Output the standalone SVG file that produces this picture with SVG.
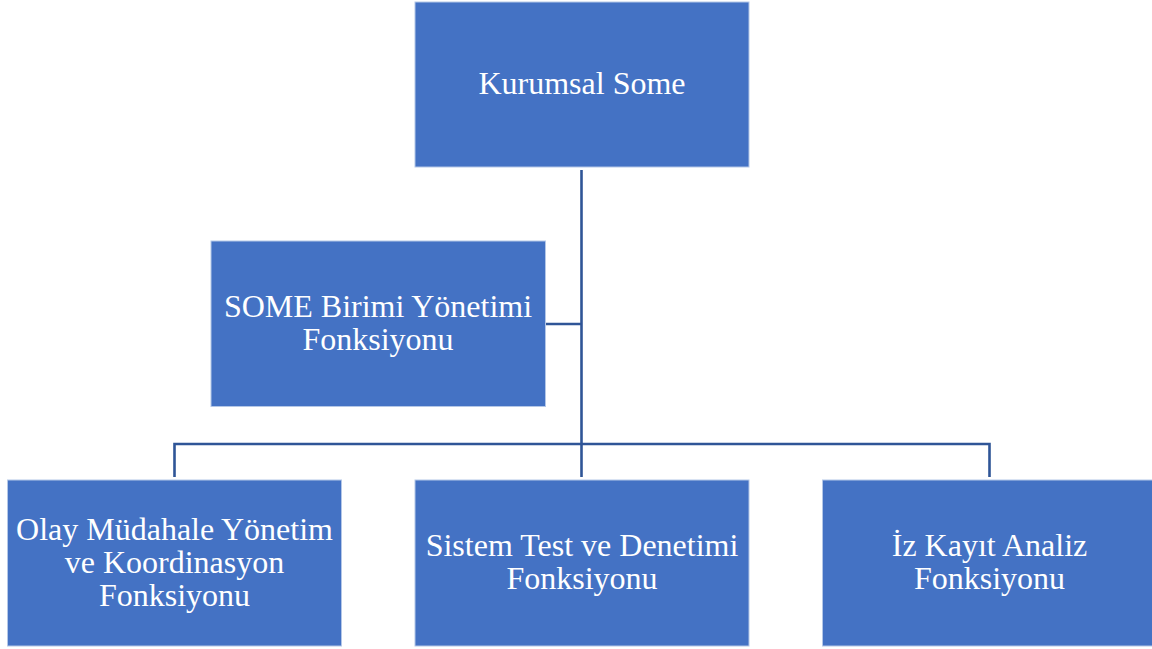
<svg xmlns="http://www.w3.org/2000/svg" width="1152" height="649" viewBox="0 0 1152 649">
<style>
.box{fill:#4472C4;stroke:#B4C7E7;stroke-width:1}
.t{font-family:"Liberation Serif","Times New Roman",serif;font-size:32px;fill:#FFFFFF;text-anchor:middle}
.c{fill:none;stroke:#2F5597;stroke-width:2.6}
</style>
<rect width="1152" height="649" fill="#FFFFFF"/>
<g id="connectors">
<line class="c" x1="581.5" y1="170" x2="581.5" y2="477"/>
<line class="c" x1="546" y1="324" x2="581.5" y2="324"/>
<polyline class="c" points="174.5,477 174.5,444 989.5,444 989.5,477"/>
</g>
<g id="kurumsal">
<rect class="box" x="415" y="2" width="334" height="165"/>
<text class="t" x="582" y="94">Kurumsal Some</text>
</g>
<g id="some-birimi">
<rect class="box" x="211" y="241" width="334.5" height="165.5"/>
<text class="t" x="378" y="317">SOME Birimi Yönetimi</text>
<text class="t" x="378" y="349.5">Fonksiyonu</text>
</g>
<g id="olay">
<rect class="box" x="7.5" y="480" width="334" height="166"/>
<text class="t" x="174.5" y="540">Olay Müdahale Yönetim</text>
<text class="t" x="174.5" y="573">ve Koordinasyon</text>
<text class="t" x="174.5" y="606">Fonksiyonu</text>
</g>
<g id="sistem">
<rect class="box" x="415" y="480" width="334" height="166"/>
<text class="t" x="582" y="556">Sistem Test ve Denetimi</text>
<text class="t" x="582" y="588.5">Fonksiyonu</text>
</g>
<g id="iz">
<rect class="box" x="822.5" y="480" width="334" height="166"/>
<text class="t" x="989.5" y="556">İz Kayıt Analiz</text>
<text class="t" x="989.5" y="588.5">Fonksiyonu</text>
</g>
</svg>
